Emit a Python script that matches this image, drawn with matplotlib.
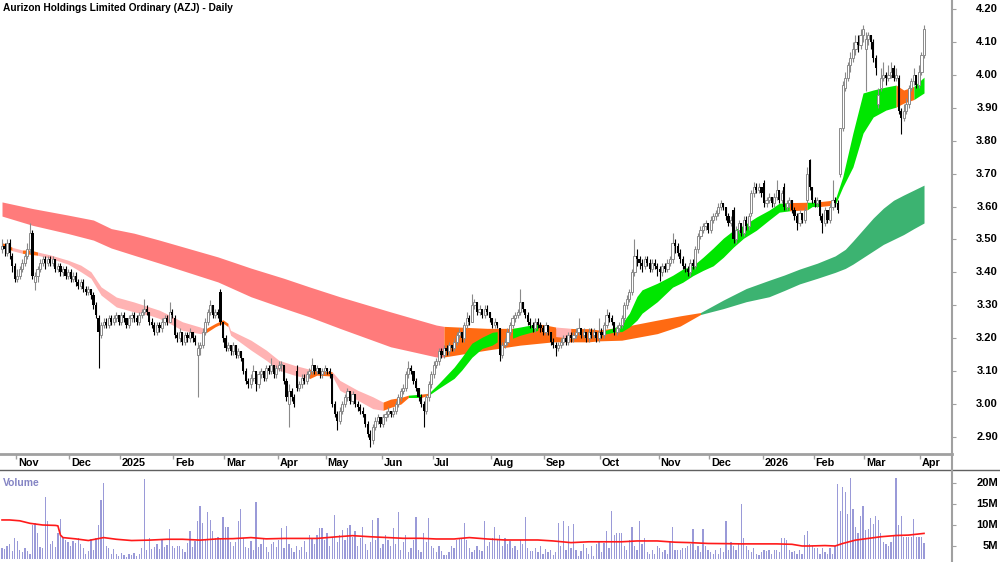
import numpy as np
import pandas as pd
import matplotlib
matplotlib.use('Agg')
from matplotlib import pyplot as plt
from matplotlib.lines import Line2D
from matplotlib.transforms import blended_transform_factory

plt.rcParams['font.family'] = ['Liberation Sans', 'DejaVu Sans']

# ---- data ----
title = 'Aurizon Holdings Limited Ordinary (AZJ) - Daily'
holidays = ['2024-12-25', '2024-12-26', '2025-01-01', '2025-01-27', '2025-04-18',
            '2025-04-21', '2025-04-25', '2025-06-09', '2025-12-25', '2025-12-26',
            '2026-01-01', '2026-01-26']

opens = [3.47, 3.48, 3.46, 3.49, 3.45, 3.42, 3.38, 3.39, 3.41, 3.43,
         3.45, 3.47, 3.52, 3.37, 3.39, 3.41, 3.43, 3.44, 3.43, 3.44,
         3.43, 3.44, 3.41, 3.42, 3.40, 3.41, 3.39, 3.40, 3.38, 3.39,
         3.37, 3.36, 3.37, 3.35, 3.34, 3.35, 3.33, 3.30, 3.26, 3.21,
         3.24, 3.25, 3.24, 3.26, 3.25, 3.26, 3.27, 3.25, 3.27, 3.26,
         3.24, 3.26, 3.27, 3.26, 3.25, 3.27, 3.28, 3.29, 3.28, 3.25,
         3.24, 3.22, 3.24, 3.23, 3.25, 3.26, 3.25, 3.28, 3.26, 3.21,
         3.20, 3.22, 3.19, 3.21, 3.20, 3.22, 3.20, 3.15, 3.17, 3.18,
         3.22, 3.25, 3.28, 3.30, 3.27, 3.28, 3.34, 3.25, 3.20, 3.17,
         3.18, 3.16, 3.18, 3.15, 3.16, 3.14, 3.10, 3.07, 3.06, 3.08,
         3.10, 3.06, 3.09, 3.10, 3.08, 3.11, 3.10, 3.12, 3.09, 3.11,
         3.12, 3.12, 3.07, 3.00, 3.04, 3.02, 3.10, 3.05, 3.06, 3.08,
         3.07, 3.09, 3.10, 3.12, 3.10, 3.11, 3.09, 3.10, 3.11, 3.10,
         3.09, 3.00, 2.97, 2.95, 2.98, 3.00, 3.02, 3.04, 3.01, 3.03,
         3.00, 2.99, 2.98, 2.97, 2.94, 2.91, 2.89, 2.93, 2.95, 2.96,
         2.94, 2.96, 2.97, 2.98, 2.97, 2.98, 3.00, 3.02, 3.04, 3.05,
         3.09, 3.11, 3.10, 3.07, 3.05, 3.02, 3.00, 2.98, 3.02, 3.06,
         3.09, 3.12, 3.13, 3.16, 3.15, 3.17, 3.16, 3.18, 3.17, 3.19,
         3.21, 3.22, 3.20, 3.24, 3.26, 3.25, 3.30, 3.31, 3.28, 3.29,
         3.27, 3.29, 3.28, 3.26, 3.24, 3.25, 3.23, 3.15, 3.18, 3.19,
         3.22, 3.24, 3.26, 3.27, 3.28, 3.31, 3.29, 3.27, 3.25, 3.24,
         3.23, 3.25, 3.24, 3.23, 3.22, 3.24, 3.22, 3.19, 3.18, 3.17,
         3.18, 3.19, 3.20, 3.19, 3.21, 3.20, 3.21, 3.22, 3.23, 3.21,
         3.22, 3.20, 3.22, 3.21, 3.22, 3.20, 3.22, 3.21, 3.24, 3.27,
         3.26, 3.25, 3.22, 3.23, 3.24, 3.26, 3.30, 3.32, 3.34, 3.40,
         3.45, 3.44, 3.43, 3.42, 3.44, 3.43, 3.41, 3.43, 3.42, 3.41,
         3.40, 3.42, 3.41, 3.43, 3.44, 3.49, 3.48, 3.46, 3.44, 3.42,
         3.41, 3.40, 3.43, 3.42, 3.47, 3.51, 3.53, 3.54, 3.55, 3.53,
         3.56, 3.57, 3.58, 3.60, 3.61, 3.60, 3.57, 3.55, 3.59, 3.50,
         3.53, 3.55, 3.52, 3.56, 3.54, 3.58, 3.64, 3.66, 3.65, 3.66,
         3.67, 3.61, 3.62, 3.63, 3.61, 3.63, 3.65, 3.62, 3.66, 3.60,
         3.61, 3.62, 3.59, 3.57, 3.55, 3.58, 3.56, 3.62, 3.74, 3.66,
         3.62, 3.61, 3.62, 3.57, 3.55, 3.59, 3.56, 3.60, 3.62, 3.61,
         3.70, 3.84, 3.96, 3.99, 4.03, 4.05, 4.08, 4.10, 4.09, 4.12,
         4.08, 4.11, 4.12, 4.10, 4.05, 3.91, 3.96, 3.99, 4.00, 3.99,
         4.00, 4.02, 3.99, 3.99, 3.89, 3.87, 3.89, 3.91, 3.96, 3.98,
         4.00, 3.97, 4.01, 4.06]

highs = [3.50, 3.49, 3.50, 3.50, 3.46, 3.43, 3.41, 3.42, 3.44, 3.46,
         3.49, 3.55, 3.53, 3.40, 3.42, 3.44, 3.45, 3.45, 3.45, 3.45,
         3.45, 3.44, 3.43, 3.43, 3.42, 3.42, 3.41, 3.41, 3.40, 3.40,
         3.38, 3.38, 3.38, 3.36, 3.36, 3.35, 3.34, 3.31, 3.27, 3.25,
         3.26, 3.26, 3.27, 3.27, 3.27, 3.28, 3.27, 3.28, 3.28, 3.26,
         3.27, 3.28, 3.28, 3.27, 3.28, 3.29, 3.32, 3.30, 3.28, 3.26,
         3.25, 3.25, 3.25, 3.26, 3.27, 3.27, 3.31, 3.29, 3.27, 3.22,
         3.23, 3.22, 3.22, 3.22, 3.23, 3.22, 3.21, 3.19, 3.19, 3.23,
         3.26, 3.29, 3.315, 3.30, 3.29, 3.29, 3.35, 3.25, 3.21, 3.19,
         3.18, 3.19, 3.18, 3.17, 3.16, 3.14, 3.11, 3.08, 3.09, 3.12,
         3.10, 3.10, 3.11, 3.10, 3.12, 3.12, 3.14, 3.12, 3.12, 3.13,
         3.13, 3.12, 3.08, 3.06, 3.05, 3.03, 3.12, 3.07, 3.09, 3.09,
         3.10, 3.11, 3.14, 3.12, 3.12, 3.11, 3.11, 3.12, 3.11, 3.11,
         3.09, 3.01, 2.98, 2.99, 3.01, 3.03, 3.05, 3.04, 3.04, 3.03,
         3.01, 3.00, 2.99, 2.97, 2.95, 2.92, 2.94, 2.96, 2.97, 2.96,
         2.97, 2.98, 2.99, 2.98, 2.99, 3.01, 3.03, 3.05, 3.06, 3.10,
         3.13, 3.12, 3.10, 3.08, 3.05, 3.03, 3.01, 3.03, 3.07, 3.10,
         3.13, 3.14, 3.17, 3.17, 3.18, 3.18, 3.19, 3.18, 3.20, 3.22,
         3.23, 3.22, 3.25, 3.28, 3.27, 3.335, 3.32, 3.31, 3.30, 3.29,
         3.30, 3.30, 3.28, 3.26, 3.26, 3.25, 3.23, 3.19, 3.20, 3.23,
         3.25, 3.27, 3.28, 3.29, 3.35, 3.31, 3.29, 3.28, 3.26, 3.25,
         3.26, 3.26, 3.25, 3.24, 3.25, 3.24, 3.22, 3.20, 3.19, 3.19,
         3.20, 3.21, 3.21, 3.22, 3.22, 3.22, 3.23, 3.26, 3.23, 3.23,
         3.22, 3.23, 3.23, 3.23, 3.22, 3.26, 3.23, 3.25, 3.29, 3.28,
         3.27, 3.25, 3.24, 3.25, 3.27, 3.31, 3.33, 3.35, 3.41, 3.50,
         3.47, 3.45, 3.44, 3.45, 3.45, 3.44, 3.44, 3.44, 3.43, 3.42,
         3.43, 3.43, 3.44, 3.45, 3.52, 3.50, 3.49, 3.47, 3.45, 3.43,
         3.42, 3.44, 3.44, 3.48, 3.52, 3.54, 3.55, 3.56, 3.55, 3.57,
         3.58, 3.59, 3.61, 3.62, 3.61, 3.60, 3.58, 3.57, 3.60, 3.54,
         3.56, 3.55, 3.57, 3.57, 3.58, 3.65, 3.675, 3.67, 3.67, 3.66,
         3.68, 3.63, 3.64, 3.63, 3.64, 3.68, 3.65, 3.65, 3.67, 3.62,
         3.63, 3.62, 3.60, 3.58, 3.59, 3.58, 3.60, 3.72, 3.745, 3.66,
         3.63, 3.63, 3.62, 3.58, 3.60, 3.59, 3.61, 3.68, 3.63, 3.62,
         3.84, 3.98, 4.01, 4.04, 4.07, 4.10, 4.12, 4.12, 4.14, 4.15,
         4.13, 4.13, 4.12, 4.11, 4.06, 3.96, 4.02, 4.04, 4.01, 4.03,
         4.04, 4.03, 4.02, 4.00, 3.90, 3.91, 3.93, 3.97, 3.99, 4.02,
         4.00, 4.03, 4.07, 4.15]

lows = [3.46, 3.45, 3.45, 3.44, 3.40, 3.37, 3.37, 3.38, 3.40, 3.42,
        3.44, 3.46, 3.38, 3.345, 3.37, 3.40, 3.42, 3.41, 3.42, 3.42,
        3.42, 3.40, 3.40, 3.39, 3.39, 3.38, 3.38, 3.37, 3.37, 3.36,
        3.35, 3.35, 3.34, 3.33, 3.33, 3.32, 3.29, 3.26, 3.11, 3.20,
        3.23, 3.23, 3.23, 3.24, 3.24, 3.25, 3.24, 3.24, 3.25, 3.23,
        3.23, 3.25, 3.25, 3.24, 3.24, 3.26, 3.27, 3.27, 3.24, 3.23,
        3.21, 3.21, 3.22, 3.22, 3.24, 3.24, 3.25, 3.26, 3.20, 3.19,
        3.19, 3.18, 3.18, 3.19, 3.19, 3.19, 3.18, 3.02, 3.15, 3.17,
        3.21, 3.24, 3.27, 3.26, 3.26, 3.26, 3.24, 3.19, 3.16, 3.16,
        3.15, 3.15, 3.14, 3.14, 3.13, 3.09, 3.06, 3.05, 3.05, 3.07,
        3.04, 3.05, 3.08, 3.07, 3.07, 3.09, 3.09, 3.08, 3.08, 3.10,
        3.10, 3.06, 3.01, 2.93, 3.01, 2.99, 3.04, 3.04, 3.05, 3.06,
        3.06, 3.08, 3.09, 3.09, 3.09, 3.08, 3.08, 3.09, 3.09, 3.08,
        2.99, 2.96, 2.92, 2.94, 2.97, 2.99, 3.01, 3.00, 3.00, 2.99,
        2.98, 2.97, 2.96, 2.93, 2.90, 2.87, 2.88, 2.92, 2.94, 2.93,
        2.93, 2.95, 2.96, 2.96, 2.96, 2.97, 2.99, 3.01, 3.03, 3.04,
        3.08, 3.09, 3.06, 3.04, 3.01, 2.99, 2.93, 2.97, 3.01, 3.05,
        3.08, 3.11, 3.12, 3.14, 3.14, 3.15, 3.15, 3.16, 3.16, 3.18,
        3.20, 3.19, 3.19, 3.23, 3.24, 3.25, 3.29, 3.27, 3.27, 3.26,
        3.26, 3.27, 3.25, 3.23, 3.23, 3.23, 3.13, 3.14, 3.17, 3.18,
        3.21, 3.23, 3.25, 3.26, 3.27, 3.28, 3.26, 3.24, 3.23, 3.22,
        3.22, 3.23, 3.22, 3.21, 3.21, 3.21, 3.18, 3.17, 3.145, 3.16,
        3.17, 3.18, 3.18, 3.18, 3.19, 3.19, 3.20, 3.21, 3.20, 3.20,
        3.19, 3.19, 3.20, 3.20, 3.19, 3.19, 3.20, 3.20, 3.23, 3.25,
        3.24, 3.21, 3.21, 3.22, 3.23, 3.25, 3.29, 3.31, 3.33, 3.39,
        3.42, 3.41, 3.40, 3.41, 3.42, 3.40, 3.40, 3.41, 3.39, 3.375,
        3.39, 3.40, 3.40, 3.42, 3.43, 3.46, 3.45, 3.43, 3.41, 3.40,
        3.39, 3.39, 3.41, 3.41, 3.46, 3.50, 3.52, 3.53, 3.52, 3.52,
        3.55, 3.56, 3.57, 3.59, 3.59, 3.56, 3.54, 3.54, 3.49, 3.49,
        3.52, 3.51, 3.51, 3.53, 3.53, 3.57, 3.63, 3.64, 3.64, 3.63,
        3.60, 3.60, 3.61, 3.60, 3.60, 3.62, 3.61, 3.61, 3.59, 3.59,
        3.60, 3.58, 3.56, 3.53, 3.54, 3.55, 3.55, 3.61, 3.65, 3.61,
        3.60, 3.60, 3.56, 3.52, 3.54, 3.55, 3.55, 3.59, 3.60, 3.58,
        3.69, 3.83, 3.95, 3.98, 4.01, 4.04, 4.06, 4.07, 4.08, 4.10,
        3.95, 4.09, 4.08, 4.04, 4.00, 3.90, 3.95, 3.98, 3.97, 3.98,
        3.99, 3.98, 3.98, 3.88, 3.82, 3.86, 3.88, 3.90, 3.95, 3.97,
        3.96, 3.96, 4.00, 4.05]

closes = [3.48, 3.47, 3.49, 3.46, 3.42, 3.38, 3.39, 3.41, 3.43, 3.45,
          3.47, 3.52, 3.39, 3.39, 3.41, 3.43, 3.44, 3.43, 3.44, 3.43,
          3.44, 3.41, 3.42, 3.40, 3.41, 3.39, 3.40, 3.38, 3.39, 3.37,
          3.36, 3.37, 3.35, 3.34, 3.35, 3.33, 3.30, 3.27, 3.22, 3.24,
          3.25, 3.24, 3.26, 3.25, 3.26, 3.27, 3.25, 3.27, 3.26, 3.24,
          3.26, 3.27, 3.26, 3.25, 3.27, 3.28, 3.29, 3.28, 3.25, 3.24,
          3.22, 3.24, 3.23, 3.25, 3.26, 3.25, 3.28, 3.27, 3.21, 3.20,
          3.22, 3.19, 3.21, 3.20, 3.22, 3.20, 3.19, 3.17, 3.18, 3.22,
          3.25, 3.28, 3.30, 3.27, 3.28, 3.27, 3.25, 3.20, 3.17, 3.18,
          3.16, 3.18, 3.15, 3.16, 3.14, 3.10, 3.07, 3.06, 3.08, 3.10,
          3.06, 3.09, 3.10, 3.08, 3.11, 3.10, 3.12, 3.09, 3.11, 3.12,
          3.12, 3.07, 3.02, 3.04, 3.02, 3.00, 3.05, 3.06, 3.08, 3.07,
          3.09, 3.10, 3.12, 3.10, 3.11, 3.09, 3.10, 3.11, 3.10, 3.09,
          3.00, 2.97, 2.95, 2.98, 3.00, 3.02, 3.04, 3.01, 3.03, 3.00,
          2.99, 2.98, 2.97, 2.94, 2.91, 2.89, 2.93, 2.95, 2.96, 2.94,
          2.96, 2.97, 2.98, 2.97, 2.98, 3.00, 3.02, 3.04, 3.05, 3.09,
          3.11, 3.10, 3.07, 3.05, 3.02, 3.00, 2.98, 3.02, 3.06, 3.09,
          3.12, 3.13, 3.16, 3.15, 3.17, 3.16, 3.18, 3.17, 3.19, 3.21,
          3.22, 3.20, 3.24, 3.26, 3.25, 3.30, 3.31, 3.28, 3.29, 3.27,
          3.29, 3.28, 3.26, 3.24, 3.25, 3.24, 3.15, 3.18, 3.19, 3.22,
          3.24, 3.26, 3.27, 3.28, 3.31, 3.29, 3.27, 3.25, 3.24, 3.23,
          3.25, 3.24, 3.23, 3.22, 3.24, 3.22, 3.19, 3.18, 3.17, 3.18,
          3.19, 3.20, 3.19, 3.21, 3.20, 3.21, 3.22, 3.23, 3.21, 3.22,
          3.20, 3.22, 3.21, 3.22, 3.20, 3.22, 3.21, 3.24, 3.27, 3.26,
          3.25, 3.22, 3.23, 3.24, 3.26, 3.30, 3.32, 3.34, 3.40, 3.45,
          3.44, 3.43, 3.42, 3.44, 3.43, 3.41, 3.43, 3.42, 3.41, 3.40,
          3.42, 3.41, 3.43, 3.44, 3.49, 3.48, 3.46, 3.44, 3.42, 3.41,
          3.40, 3.43, 3.42, 3.47, 3.51, 3.53, 3.54, 3.55, 3.53, 3.56,
          3.57, 3.58, 3.60, 3.61, 3.60, 3.57, 3.55, 3.56, 3.50, 3.53,
          3.55, 3.52, 3.56, 3.54, 3.57, 3.64, 3.66, 3.65, 3.66, 3.64,
          3.61, 3.62, 3.63, 3.61, 3.63, 3.65, 3.62, 3.64, 3.60, 3.61,
          3.62, 3.59, 3.57, 3.55, 3.58, 3.56, 3.59, 3.70, 3.66, 3.62,
          3.61, 3.62, 3.57, 3.55, 3.59, 3.56, 3.60, 3.62, 3.61, 3.59,
          3.84, 3.97, 3.99, 4.03, 4.05, 4.08, 4.10, 4.09, 4.12, 4.14,
          4.11, 4.12, 4.10, 4.05, 4.02, 3.94, 3.99, 4.00, 3.99, 4.00,
          4.01, 3.99, 4.00, 3.89, 3.87, 3.89, 3.91, 3.96, 3.98, 4.00,
          3.97, 4.01, 4.06, 4.14]

# volume in millions
volumes = [4.5, 4.3, 5.0, 5.4, 3.8, 6.8, 6.3, 4.0, 3.6, 4.5,
           3.8, 3.2, 10.0, 10.4, 8.0, 4.8, 4.6, 16.7, 11.0, 5.5,
           6.2, 4.8, 8.0, 11.4, 6.8, 6.5, 6.0, 5.0, 6.2, 5.6,
           6.8, 5.5, 4.5, 3.2, 3.8, 6.7, 4.0, 7.0, 10.0, 16.0,
           20.0, 5.0, 4.5, 3.0, 4.2, 3.2, 2.6, 3.4, 2.8, 2.4,
           3.0, 2.8, 3.4, 2.6, 3.2, 4.5, 21.0, 4.0, 6.8, 4.4,
           4.8, 5.5, 4.2, 6.5, 4.8, 5.2, 9.0, 5.0, 4.5, 5.0,
           5.0, 4.2, 3.5, 5.6, 8.5, 4.8, 6.2, 11.0, 14.6, 10.5,
           6.5, 13.0, 11.2, 8.5, 6.8, 7.2, 7.0, 12.0, 9.5, 9.5,
           6.0, 5.0, 6.0, 11.0, 13.8, 6.8, 4.8, 4.5, 6.2, 4.0,
           15.5, 4.8, 5.4, 6.8, 4.8, 3.5, 5.5, 6.0, 4.8, 6.4,
           9.4, 4.5, 9.8, 5.4, 4.6, 3.5, 5.0, 4.0, 4.8, 6.2,
           3.6, 7.5, 7.0, 5.5, 7.6, 9.3, 9.3, 6.5, 8.0, 5.0,
           7.2, 12.4, 6.0, 7.5, 8.7, 6.5, 9.3, 10.0, 7.2, 8.5,
           5.0, 7.0, 9.5, 5.5, 4.0, 6.0, 11.2, 6.5, 11.7, 4.5,
           5.5, 7.5, 6.5, 5.0, 9.3, 5.5, 13.0, 4.0, 6.0, 7.5,
           3.5, 4.5, 6.5, 12.0, 4.0, 3.5, 8.0, 6.0, 11.7, 5.0,
           4.5, 3.5, 5.0, 3.8, 2.8, 2.8, 3.6, 5.0, 4.5, 6.5,
           6.8, 6.8, 10.4, 6.5, 4.5, 3.5, 4.0, 5.0, 4.0, 3.8,
           11.0, 5.0, 6.0, 7.0, 9.5, 6.5, 7.5, 5.0, 7.0, 5.5,
           6.2, 4.5, 5.0, 4.0, 6.5, 5.5, 12.0, 4.5, 3.8, 3.8,
           4.5, 3.5, 5.0, 3.0, 4.2, 3.5, 4.0, 2.8, 3.5, 10.5,
           5.0, 11.0, 4.0, 9.8, 4.5, 10.2, 4.0, 2.5, 3.8, 5.5,
           4.5, 3.0, 5.0, 2.5, 5.5, 6.0, 3.5, 5.6, 8.5, 4.5,
           13.4, 7.5, 8.0, 8.0, 8.0, 5.0, 4.0, 6.5, 9.5, 5.0,
           4.0, 10.9, 5.5, 7.0, 3.5, 3.0, 4.0, 3.0, 5.0, 4.5,
           3.5, 4.0, 3.0, 6.0, 9.6, 4.0, 4.0, 4.0, 4.5, 4.5,
           5.0, 5.5, 9.0, 4.0, 5.0, 3.5, 9.0, 5.0, 4.0, 3.5,
           3.0, 4.0, 3.0, 4.5, 3.5, 10.9, 4.0, 6.0, 5.0, 4.0,
           5.5, 15.0, 6.8, 5.0, 4.0, 3.5, 4.5, 3.0, 2.8, 3.5,
           4.0, 3.8, 4.0, 3.0, 4.0, 4.0, 3.5, 7.0, 6.8, 6.5,
           4.0, 3.5, 3.8, 3.0, 4.0, 3.2, 7.5, 8.6, 5.5, 5.0,
           4.5, 4.5, 3.0, 4.5, 3.5, 3.0, 4.5, 3.0, 5.0, 19.8,
           13.4, 19.0, 17.8, 12.6, 21.3, 13.8, 9.5, 8.0, 12.1, 14.6,
           8.8, 9.0, 11.6, 10.2, 12.1, 11.2, 8.0, 6.0, 5.5, 5.0,
           6.0, 7.6, 21.3, 10.0, 12.1, 7.2, 7.2, 7.2, 7.2, 11.4,
           7.2, 7.2, 7.2, 5.8]

# volume moving average (bar index, millions)
vol_ma_idx = [0, 3, 7, 11, 16, 21, 22, 23, 24, 29, 34, 40, 45, 51, 58, 65, 71, 78, 85, 91,
              98, 104, 111, 117, 124, 132, 138, 145, 152, 158, 165, 171, 178, 184, 191, 198,
              204, 211, 217, 224, 231, 237, 244, 250, 258, 265, 271, 278, 285, 291, 298, 305,
              311, 315, 318, 324, 328, 331, 336, 341, 346, 352, 357, 363]
vol_ma_val = [11.2, 11.2, 11.0, 10.4, 10.0, 9.9, 9.8, 7.6, 7.0, 6.7, 6.3, 7.0, 6.6, 6.3, 6.4,
              6.6, 6.6, 6.4, 6.7, 6.75, 7.0, 6.7, 6.8, 6.8, 6.8, 7.2, 7.46, 7.2, 7.0, 6.83,
              6.83, 6.67, 6.67, 7.0, 6.67, 6.43, 6.43, 6.43, 6.2, 5.8, 6.0, 6.0, 6.0, 6.2, 6.2,
              5.9, 5.8, 5.6, 5.56, 5.5, 5.5, 5.5, 5.4, 5.0, 5.0, 5.1, 5.0, 5.6, 6.4, 6.8, 7.2,
              7.5, 7.6, 8.0]

# short-term ribbon: bar index, upper, lower, trend state (d=down, m=mixed, u=up)
short_idx = [0, 2, 4, 8, 11, 14, 19, 26, 31, 35, 39, 45, 52, 58, 62, 66, 71, 78, 80, 84,
             87, 89, 90, 98, 104, 109, 115, 121, 124, 130, 133, 140, 146, 150, 153, 157, 160,
             165, 168, 172, 178, 181, 185, 189, 193, 195, 198, 201, 204, 211, 214, 218, 224,
             231, 237, 242, 244, 247, 250, 252, 258, 264, 268, 272, 276, 280, 284, 288, 292,
             297, 302, 306, 310, 317, 319, 322, 328, 331, 335, 339, 343, 348, 352, 355, 359, 363]
short_hi = [3.49, 3.485, 3.476, 3.468, 3.468, 3.462, 3.453, 3.437, 3.422, 3.402, 3.356, 3.325,
            3.31, 3.295, 3.285, 3.27, 3.25, 3.234, 3.228, 3.245, 3.256, 3.245, 3.224, 3.194,
            3.164, 3.133, 3.118, 3.106, 3.103, 3.098, 3.072, 3.042, 3.022, 3.006, 3.015, 3.02,
            3.027, 3.03, 3.033, 3.063, 3.112, 3.142, 3.185, 3.203, 3.218, 3.22, 3.22, 3.23,
            3.234, 3.244, 3.24, 3.234, 3.23, 3.225, 3.222, 3.235, 3.244, 3.276, 3.327, 3.347,
            3.367, 3.391, 3.41, 3.42, 3.446, 3.474, 3.504, 3.528, 3.543, 3.568, 3.589, 3.61,
            3.612, 3.613, 3.613, 3.615, 3.62, 3.69, 3.823, 3.945, 3.954, 3.963, 3.969, 3.954,
            3.965, 3.993]
short_lo = [3.474, 3.475, 3.466, 3.458, 3.455, 3.452, 3.443, 3.425, 3.402, 3.382, 3.331, 3.295,
            3.28, 3.27, 3.26, 3.245, 3.224, 3.214, 3.215, 3.235, 3.246, 3.235, 3.209, 3.164,
            3.133, 3.103, 3.088, 3.077, 3.088, 3.085, 3.042, 3.012, 2.986, 2.981, 2.99, 3.00,
            3.02, 3.02, 3.027, 3.048, 3.078, 3.103, 3.142, 3.169, 3.179, 3.189, 3.19, 3.20,
            3.209, 3.224, 3.22, 3.205, 3.20, 3.20, 3.212, 3.22, 3.22, 3.234, 3.255, 3.276,
            3.311, 3.355, 3.37, 3.39, 3.406, 3.42, 3.446, 3.477, 3.504, 3.528, 3.559, 3.583,
            3.587, 3.59, 3.60, 3.60, 3.605, 3.659, 3.72, 3.823, 3.872, 3.893, 3.902, 3.914,
            3.925, 3.945]
short_state = ['m', 'm', 'd', 'm', 'm', 'd', 'd', 'd', 'd', 'd', 'd', 'd', 'd', 'd', 'd', 'd',
               'd', 'd', 'm', 'm', 'm', 'd', 'd', 'd', 'd', 'd', 'd', 'm', 'm', 'd', 'd', 'd',
               'd', 'm', 'm', 'm', 'u', 'm', 'u', 'u', 'u', 'u', 'u', 'u', 'u', 'm', 'm', 'u',
               'u', 'm', 'm', 'd', 'm', 'm', 'u', 'u', 'u', 'u', 'u', 'u', 'u', 'u', 'u', 'u',
               'u', 'u', 'u', 'u', 'u', 'u', 'u', 'u', 'm', 'u', 'u', 'm', 'u', 'u', 'u', 'u',
               'u', 'u', 'm', 'm', 'u', 'u']

# long-term ribbon
long_idx = [0, 12, 26, 36, 43, 52, 62, 85, 98, 111, 121, 133, 153, 171, 174, 191, 204, 217,
            231, 235, 244, 258, 267, 275, 284, 293, 302, 308, 314, 321, 328, 332, 335, 339,
            343, 347, 351, 355, 359, 363]
long_hi = [3.614, 3.594, 3.574, 3.559, 3.533, 3.519, 3.498, 3.447, 3.413, 3.382, 3.356, 3.326,
           3.280, 3.240, 3.236, 3.230, 3.230, 3.230, 3.229, 3.225, 3.234, 3.255, 3.268, 3.278,
           3.316, 3.351, 3.376, 3.392, 3.41, 3.428, 3.45, 3.47, 3.495, 3.53, 3.565, 3.595,
           3.619, 3.635, 3.65, 3.665]
long_lo = [3.571, 3.543, 3.518, 3.498, 3.474, 3.452, 3.428, 3.371, 3.326, 3.291, 3.265, 3.230,
           3.174, 3.143, 3.143, 3.164, 3.179, 3.189, 3.189, 3.192, 3.194, 3.214, 3.237, 3.272,
           3.290, 3.311, 3.326, 3.345, 3.365, 3.382, 3.40, 3.412, 3.425, 3.445, 3.465, 3.485,
           3.50, 3.515, 3.533, 3.55]
long_state = ['d', 'd', 'd', 'd', 'd', 'd', 'd', 'd', 'd', 'd', 'd', 'd', 'd', 'd', 'm', 'm',
              'm', 'm', 'm', 'm', 'm', 'm', 'm', 'u', 'u', 'u', 'u', 'u', 'u', 'u', 'u', 'u',
              'u', 'u', 'u', 'u', 'u', 'u', 'u', 'u']

price_ticks = [2.90, 3.00, 3.10, 3.20, 3.30, 3.40, 3.50, 3.60, 3.70, 3.80, 3.90, 4.00, 4.10, 4.20]
vol_ticks = [5, 10, 15, 20]

# ---- colours ----
short_colors = {'d': '#ffb3b3', 'm': '#ff6a12', 'u': '#00e600'}
long_colors = {'d': '#ff7b7b', 'm': '#ff6a12', 'u': '#3cb371'}
grey = '#a0a0a0'

dates = pd.bdate_range('2024-10-24', '2026-04-02')
dates = dates[~dates.isin(pd.to_datetime(holidays))]
n = min(len(dates), len(closes))
dates = dates[:n]
x = np.arange(n)
o = np.array(opens[:n]); h = np.array(highs[:n])
l = np.array(lows[:n]); c = np.array(closes[:n])
v = np.array(volumes[:n])

W, H = 1000, 562
fig = plt.figure(figsize=(10, 5.62), dpi=100)
right = 951.7 / W
xlim = (-0.79, 373.9)

ax = fig.add_axes([0, 1 - 454 / H, right, 454 / H])
axm = fig.add_axes([0, 1 - 469 / H, right, 15 / H])
axv = fig.add_axes([0, 3 / H, right, 89 / H])


def ribbon(axis, idx, hi, lo, state, colors):
    idx = np.array(idx); hi = np.array(hi); lo = np.array(lo)
    start = 0
    for j in range(1, len(state) + 1):
        if j == len(state) or state[j] != state[start]:
            end = min(j, len(idx) - 1)
            axis.fill_between(idx[start:end + 1], lo[start:end + 1], hi[start:end + 1],
                              color=colors[state[start]], lw=0, zorder=1)
            start = j


ribbon(ax, long_idx, long_hi, long_lo, long_state, long_colors)
ribbon(ax, short_idx, short_hi, short_lo, short_state, short_colors)

# candles
up = c >= o
body_lo = np.minimum(o, c)
body_h = np.maximum(np.abs(c - o), 0.003)
ax.vlines(x[up], l[up], h[up], color='#8a8a8a', lw=0.8, zorder=3)
ax.vlines(x[~up], l[~up], h[~up], color='black', lw=0.8, zorder=3)
ax.bar(x[up], body_h[up], bottom=body_lo[up], width=0.85, facecolor='white',
       edgecolor='#8a8a8a', linewidth=0.7, zorder=4)
ax.bar(x[~up], body_h[~up], bottom=body_lo[~up], width=0.85, color='black',
       linewidth=0, zorder=4)

ax.set_xlim(*xlim)
ax.set_ylim(2.8483, 4.2274)
for s in ax.spines.values():
    s.set_visible(False)
ax.set_xticks([])
ax.yaxis.tick_right()
ax.set_yticks(price_ticks)
ax.tick_params(axis='y', length=3, width=0.8, color=grey, labelright=False)

trans = blended_transform_factory(fig.transFigure, ax.transData)
for t in price_ticks:
    ax.text(0.998, t, f'{t:.2f}', transform=trans, ha='right', va='center',
            fontsize=8, fontweight='bold', clip_on=False)

fig.text(3 / W, 1 - 8 / H, title, ha='left', va='center', fontsize=7.3, fontweight='bold')

# month band
axm.set_xlim(*xlim)
axm.set_ylim(0, 1)
axm.axis('off')
axm.axhline(1, color=grey, lw=2, clip_on=False)
month_idx = [i for i in range(1, n) if dates[i].month != dates[i - 1].month]
for k in month_idx:
    d = dates[k]
    lab = str(d.year) if d.month == 1 else d.strftime('%b')
    axm.vlines(k - 0.5, 0.7, 1.0, color=grey, lw=1)
    axm.text(k + 0.2, 0.42, lab, ha='left', va='center', fontsize=7.8, fontweight='bold')

fig.add_artist(Line2D([0, 1], [1 - 469.5 / H] * 2, transform=fig.transFigure,
                      color='#606060', lw=1))
fig.add_artist(Line2D([right, right], [0, 1], transform=fig.transFigure, color=grey, lw=1.5))

# volume panel
axv.bar(x, v, width=0.5, color='#9a9ad8', linewidth=0)
axv.plot(vol_ma_idx, vol_ma_val, color='#ff1a1a', lw=1.2)
axv.set_xlim(*xlim)
axv.set_ylim(1.9, 23.1)
for s in axv.spines.values():
    s.set_visible(False)
axv.set_xticks([])
axv.yaxis.tick_right()
axv.set_yticks(vol_ticks)
axv.tick_params(axis='y', length=3, width=0.8, color=grey, labelright=False)
vtrans = blended_transform_factory(fig.transFigure, axv.transData)
for t in vol_ticks:
    axv.text(0.998, t, f'{t}M', transform=vtrans, ha='right', va='center',
             fontsize=8, fontweight='bold', clip_on=False)
fig.text(3 / W, 1 - 483 / H, 'Volume', ha='left', va='center', fontsize=7.4,
         fontweight='bold', color='#8484c4')

fig.savefig('out.png', dpi=100)
